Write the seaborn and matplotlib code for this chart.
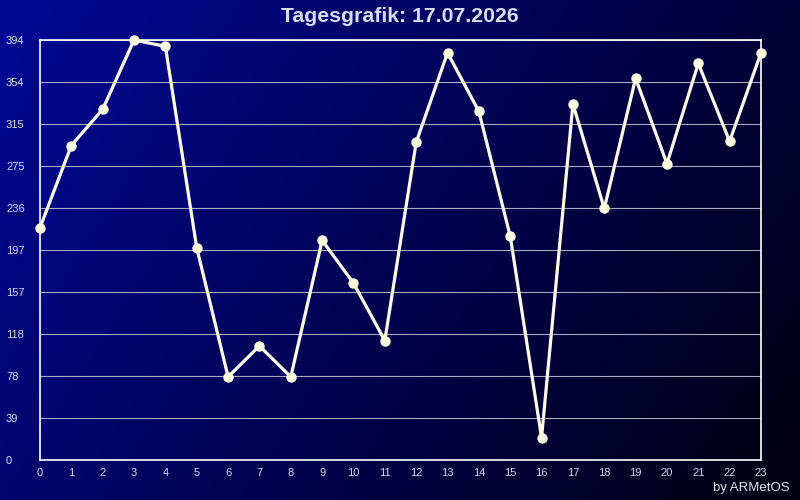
import numpy as np
import pandas as pd
import seaborn as sns
import matplotlib
matplotlib.use('Agg')
import matplotlib.pyplot as plt

# hourly values
hours = list(range(24))
values = [218, 295, 329, 394, 388, 199, 78, 107, 78, 206, 166, 112,
          298, 382, 327, 210, 21, 334, 236, 358, 278, 372, 299, 382]
ytick_labels = [0, 39, 78, 118, 157, 197, 236, 275, 315, 354, 394]
title = 'Tagesgrafik: 17.07.2026'
credit = 'by ARMetOS'

df = pd.DataFrame({'hour': hours, 'value': values})

sns.set_style('dark')
plt.rcParams['font.family'] = ['Liberation Sans', 'DejaVu Sans']

fig = plt.figure(figsize=(8, 5), dpi=100)

# diagonal blue-to-black background
bg = fig.add_axes([0, 0, 1, 1], zorder=-10)
xx, yy = np.meshgrid(np.linspace(0, 1, 400), np.linspace(0, 1, 250))
blue = np.clip(150 - 95 * xx - 40 * yy, 0, 255) / 255
red = np.zeros_like(blue)
green = np.clip(10 - 10 * xx - 4 * yy, 0, 255) / 255
bg.imshow(np.dstack([red, green, blue]), aspect='auto', extent=[0, 1, 0, 1], origin='upper')
bg.axis('off')

ax = fig.add_axes([40 / 800, 40 / 500, 721 / 800, 420 / 500])
ax.patch.set_alpha(0)

sns.lineplot(data=df, x='hour', y='value', ax=ax, color='#fffbe8', linewidth=2.3,
             marker='o', markersize=7.5, markeredgewidth=0, markerfacecolor='#fffbe0')
for line in ax.get_lines():
    line.set_solid_joinstyle('miter')
    line.set_clip_on(False)
    line.set_zorder(5)

ax.set_xlim(0, 23)
ax.set_ylim(0, 394)
ax.set_xticks(hours)
ax.set_xticklabels([str(h) for h in hours])
ax.set_yticks(np.linspace(0, 394, 11))
ax.set_yticklabels([str(v) for v in ytick_labels], ha='left')
ax.tick_params(colors='#d8d8e8', labelsize=8, length=0)
ax.tick_params(axis='y', pad=24.5)
ax.tick_params(axis='x', pad=6)
ax.set_xlabel('')
ax.set_ylabel('')
ax.grid(axis='y', color='#a8a8c0', linewidth=0.8)
ax.grid(axis='x', visible=False)
for s in ax.spines.values():
    s.set_visible(True)
    s.set_color('white')
    s.set_linewidth(1.2)

fig.text(0.5, 1 - 17 / 500, title, ha='center', va='center', fontsize=15.3,
         fontweight='bold', color='#d8dcee')
fig.text(790 / 800, 1 - 488 / 500, credit, ha='right', va='center', fontsize=9.5,
         color='#e0e0f0')

fig.savefig('out.png', dpi=100)
